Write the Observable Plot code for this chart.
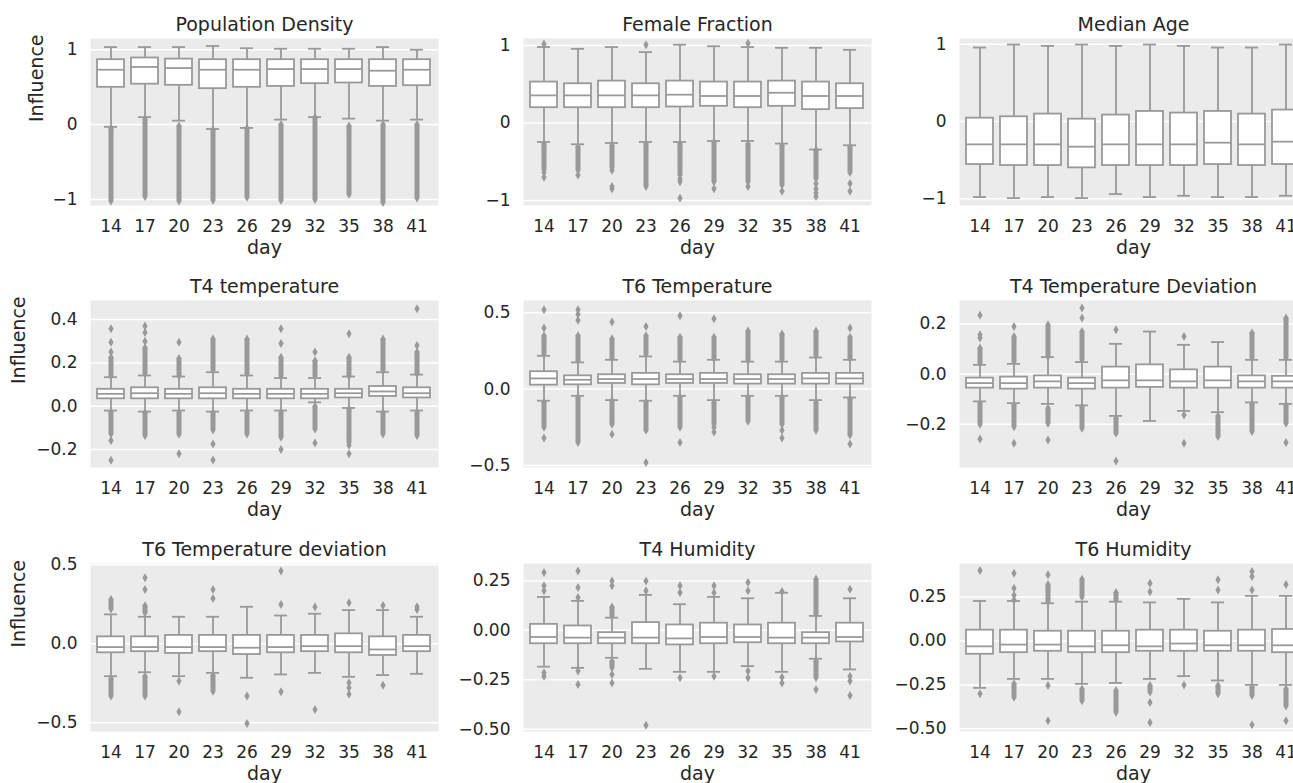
<!DOCTYPE html>
<html>
<head>
<meta charset="utf-8">
<script src="https://cdn.jsdelivr.net/npm/d3@7"></script>
<script src="https://cdn.jsdelivr.net/npm/@observablehq/plot@0.6"></script>
<style>
  html, body { margin: 0; padding: 0; overflow: hidden; width: 1293px; height: 783px; background: #ffffff; }
  #root { position: relative; width: 1293px; height: 783px; overflow: hidden; }
  #root svg { position: absolute; overflow: visible; }
</style>
</head>
<body>
<div id="root"></div>
<script>
// ---------- DATA ----------
const days = [14, 17, 20, 23, 26, 29, 32, 35, 38, 41];
const titles = ["Population Density", "Female Fraction", "Median Age",
  "T4 temperature", "T6 Temperature", "T4 Temperature Deviation",
  "T6 Temperature deviation", "T4 Humidity", "T6 Humidity"];
const yLabel = "Influence";
const xLabel = "day";

// each box: [lower whisker, q1, median, q3, upper whisker]
const popDensityBoxes = [[-0.03,0.498,0.733,0.867,1.035],[0.10,0.54,0.77,0.89,1.035],[0.053,0.525,0.755,0.875,1.035],[-0.058,0.48,0.733,0.867,1.05],[-0.044,0.498,0.733,0.867,1.02],[0.067,0.51,0.742,0.867,1.013],[0.10,0.547,0.742,0.867,1.013],[0.08,0.556,0.742,0.867,1.013],[0.053,0.51,0.72,0.867,1.035],[0.067,0.52,0.733,0.867,1.0]];
const popDensityOutliers = [[],[],[],[],[],[],[],[],[],[]];
const popDensityDense = [[[-0.05,-1.02]],[[0.07,-0.96]],[[-0.02,-1.02]],[[-0.07,-1.01]],[[-0.05,-0.97]],[[0.0,-1.01]],[[0.10,-1.0]],[[-0.02,-0.93]],[[0.0,-1.04]],[[0.0,-0.98]]];

const femaleBoxes = [[-0.245,0.197,0.356,0.528,0.98],[-0.275,0.197,0.356,0.506,0.957],[-0.258,0.197,0.356,0.54,0.98],[-0.245,0.197,0.356,0.506,0.914],[-0.245,0.206,0.365,0.54,1.01],[-0.232,0.215,0.348,0.528,0.99],[-0.232,0.197,0.348,0.528,0.98],[-0.266,0.215,0.39,0.54,0.97],[-0.343,0.172,0.348,0.528,0.97],[-0.288,0.185,0.348,0.506,0.944]];
const femaleOutliers = [[1.02,-0.64,-0.70],[-0.67],[-0.61,-0.82,-0.85],[1.01],[-0.72,-0.76,-0.97],[-0.85],[1.03,-0.82],[-0.88],[-0.78,-0.85,-0.90,-0.95],[-0.64,-0.78,-0.88]];
const femaleDense = [[[-0.27,-0.60]],[[-0.31,-0.61]],[[-0.29,-0.57]],[[-0.27,-0.82]],[[-0.27,-0.67]],[[-0.245,-0.76]],[[-0.27,-0.76]],[[-0.29,-0.80]],[[-0.35,-0.72]],[[-0.31,-0.62]]];

const ageBoxes = [[-0.978,-0.557,-0.296,0.043,0.957],[-0.991,-0.57,-0.296,0.061,0.996],[-0.978,-0.57,-0.296,0.096,0.978],[-0.991,-0.6,-0.326,0.03,0.996],[-0.939,-0.57,-0.296,0.083,0.978],[-0.978,-0.57,-0.296,0.13,0.996],[-0.961,-0.57,-0.296,0.109,0.978],[-0.978,-0.557,-0.274,0.13,0.957],[-0.978,-0.57,-0.296,0.096,0.957],[-0.961,-0.557,-0.261,0.148,0.996]];
const ageOutliers = [[],[],[],[],[],[],[],[],[],[]];
const ageDense = [[],[],[],[],[],[],[],[],[],[]];

const t4TempBoxes = [[-0.02,0.034,0.057,0.078,0.134],[-0.025,0.034,0.06,0.085,0.142],[-0.02,0.034,0.057,0.078,0.137],[-0.025,0.034,0.06,0.085,0.157],[-0.02,0.034,0.057,0.078,0.142],[-0.02,0.034,0.057,0.078,0.13],[0.018,0.034,0.057,0.078,0.13],[-0.008,0.038,0.06,0.078,0.137],[-0.025,0.045,0.068,0.091,0.157],[-0.02,0.038,0.06,0.085,0.146]];
const t4TempOutliers = [[0.357,0.295,0.25,-0.158,-0.25],[0.30,0.34,0.37],[0.295,-0.22],[-0.174,-0.248],[],[0.29,0.357,-0.2],[0.25,-0.17],[0.334,-0.18,-0.22],[],[0.28,0.45]];
const t4TempDense = [[[0.14,0.226],[-0.028,-0.128]],[[0.15,0.27],[-0.03,-0.135]],[[0.14,0.22],[-0.03,-0.13]],[[0.165,0.31],[-0.03,-0.11]],[[0.15,0.31],[-0.03,-0.128]],[[0.14,0.226],[-0.03,-0.143]],[[0.14,0.21],[0.0,-0.105]],[[0.14,0.226],[-0.012,-0.166]],[[0.165,0.31],[-0.03,-0.128]],[[0.15,0.25],[-0.03,-0.135]]];

const t6TempBoxes = [[-0.076,0.026,0.07,0.114,0.218],[-0.044,0.028,0.061,0.087,0.175],[-0.072,0.037,0.066,0.094,0.192],[-0.076,0.028,0.066,0.103,0.214],[-0.044,0.037,0.066,0.094,0.18],[-0.072,0.037,0.066,0.103,0.192],[-0.044,0.033,0.066,0.094,0.18],[-0.044,0.033,0.066,0.094,0.18],[-0.072,0.033,0.07,0.103,0.207],[-0.055,0.033,0.07,0.103,0.192]];
const t6TempOutliers = [[0.40,0.52,-0.32],[0.45,0.49,0.52],[0.44,-0.295],[0.41,-0.48],[0.48,-0.35],[0.46,-0.25,-0.28],[],[-0.27,-0.32],[],[0.40,-0.36]];
const t6TempDense = [[[0.23,0.35],[-0.087,-0.25]],[[0.185,0.35],[-0.055,-0.35]],[[0.2,0.33],[-0.076,-0.23]],[[0.23,0.35],[-0.087,-0.27]],[[0.19,0.34],[-0.055,-0.25]],[[0.2,0.34],[-0.087,-0.23]],[[0.19,0.38],[-0.055,-0.21]],[[0.19,0.36],[-0.055,-0.23]],[[0.22,0.38],[-0.087,-0.27]],[[0.2,0.34],[-0.065,-0.3]]];

const t4DevBoxes = [[-0.109,-0.056,-0.036,-0.016,0.037],[-0.116,-0.06,-0.036,-0.012,0.041],[-0.119,-0.056,-0.029,-0.007,0.068],[-0.125,-0.06,-0.036,-0.016,0.048],[-0.167,-0.056,-0.025,0.028,0.121],[-0.187,-0.053,-0.025,0.037,0.17],[-0.147,-0.056,-0.029,0.017,0.117],[-0.152,-0.056,-0.025,0.028,0.128],[-0.113,-0.056,-0.029,-0.007,0.057],[-0.119,-0.056,-0.029,-0.009,0.057]];
const t4DevOutliers = [[0.144,0.157,0.235,-0.259],[0.19,-0.276],[-0.263],[0.224,0.264],[0.177,-0.347],[],[0.15,-0.163,-0.276],[],[],[-0.273]];
const t4DevDense = [[[0.044,0.104],[-0.116,-0.2]],[[0.05,0.15],[-0.123,-0.21]],[[0.07,0.197],[-0.136,-0.196]],[[0.057,0.17],[-0.13,-0.216]],[[-0.176,-0.236]],[],[],[[-0.167,-0.249]],[[0.064,0.164],[-0.119,-0.229]],[[0.064,0.224],[-0.123,-0.196]]];

const t6DevBoxes = [[-0.205,-0.057,-0.021,0.044,0.186],[-0.18,-0.05,-0.021,0.044,0.171],[-0.205,-0.061,-0.021,0.053,0.171],[-0.184,-0.05,-0.021,0.053,0.171],[-0.215,-0.068,-0.025,0.053,0.234],[-0.194,-0.057,-0.021,0.053,0.179],[-0.184,-0.05,-0.015,0.053,0.19],[-0.209,-0.057,-0.015,0.063,0.213],[-0.198,-0.074,-0.036,0.044,0.213],[-0.19,-0.05,-0.015,0.053,0.171]];
const t6DevOutliers = [[],[0.344,0.418],[-0.236,-0.43],[0.287,0.344],[-0.331,-0.504],[0.249,0.46,-0.304],[0.232,-0.416],[0.26,-0.247,-0.278,-0.32],[0.243,-0.262],[0.234,0.217]];
const t6DevDense = [[[0.22,0.28],[-0.22,-0.33]],[[0.196,0.24],[-0.205,-0.33]],[],[[-0.2,-0.3]],[],[],[],[],[],[]];

const t4HumBoxes = [[-0.184,-0.068,-0.034,0.03,0.169],[-0.19,-0.068,-0.037,0.022,0.149],[-0.139,-0.068,-0.037,-0.012,0.064],[-0.195,-0.068,-0.037,0.039,0.179],[-0.21,-0.074,-0.041,0.027,0.132],[-0.21,-0.068,-0.034,0.036,0.169],[-0.181,-0.063,-0.034,0.027,0.162],[-0.21,-0.068,-0.037,0.036,0.19],[-0.144,-0.068,-0.037,-0.012,0.073],[-0.198,-0.059,-0.034,0.036,0.162]];
const t4HumOutliers = [[0.2,0.225,0.293,-0.215,-0.232],[0.166,0.217,0.3,-0.206,-0.274],[0.225,0.25,-0.223,-0.266],[0.2,0.25,-0.48],[0.19,0.225,-0.24],[0.19,0.225,-0.232],[0.2,0.242,-0.206,-0.24],[0.196,-0.237,-0.266],[-0.3],[0.208,-0.232,-0.257,-0.33]];
const t4HumDense = [[],[],[[0.073,0.118],[-0.156,-0.19]],[],[],[],[],[],[[0.08,0.26],[-0.156,-0.24]],[]];

const t6HumBoxes = [[-0.267,-0.076,-0.031,0.061,0.227],[-0.216,-0.067,-0.021,0.061,0.227],[-0.216,-0.059,-0.021,0.055,0.214],[-0.244,-0.067,-0.031,0.055,0.223],[-0.239,-0.067,-0.025,0.055,0.223],[-0.216,-0.059,-0.031,0.061,0.219],[-0.2,-0.059,-0.015,0.061,0.239],[-0.225,-0.059,-0.025,0.055,0.219],[-0.25,-0.059,-0.025,0.061,0.256],[-0.25,-0.067,-0.025,0.065,0.256]];
const t6HumOutliers = [[0.4,-0.3],[0.233,0.26,0.3,0.385],[0.376,-0.254,-0.454],[],[],[0.28,0.328,-0.35,-0.464],[-0.25],[0.29,0.347],[0.29,0.366,0.395,-0.477],[0.32,-0.454]];
const t6HumDense = [[],[[-0.244,-0.32]],[[0.223,0.32]],[[0.25,0.35],[-0.273,-0.34]],[[0.233,0.275],[-0.282,-0.406]],[[-0.254,-0.29]],[],[[-0.254,-0.3]],[[-0.263,-0.31]],[[-0.273,-0.37]]];

// y-axis tick values per panel
const ticksPM1 = [-1, 0, 1];
const ticksT4Temp = [-0.2, 0.0, 0.2, 0.4];
const ticksT6Temp = [-0.5, 0.0, 0.5];
const ticksT4Dev = [-0.2, 0.0, 0.2];
const ticksT6Dev = [-0.5, 0.0, 0.5];
const ticksHum = [-0.5, -0.25, 0.0, 0.25];

// ---------- LAYOUT / STYLE ----------
const G = "#999999";
const SW = 1.8;
const BG = "#EBEBEB";
const TXT = "#262626";
const ML = 90, MR = 10, MT = 40, MB = 62, W = 348;
const colLeft = [90, 523, 959];
const rowTop = [38, 300, 563];
const rowH = [167, 167, 168];

const fmtInt = d3.format("d"), fmt1 = d3.format(".1f"), fmt2 = d3.format(".2f");

const panels = [
  {boxes: popDensityBoxes, out: popDensityOutliers, dense: popDensityDense, domain: [-1.08, 1.15], ticks: ticksPM1, fmt: fmtInt},
  {boxes: femaleBoxes, out: femaleOutliers, dense: femaleDense, domain: [-1.065, 1.09], ticks: ticksPM1, fmt: fmtInt},
  {boxes: ageBoxes, out: ageOutliers, dense: ageDense, domain: [-1.087, 1.074], ticks: ticksPM1, fmt: fmtInt},
  {boxes: t4TempBoxes, out: t4TempOutliers, dense: t4TempDense, domain: [-0.283, 0.488], ticks: ticksT4Temp, fmt: fmt1},
  {boxes: t6TempBoxes, out: t6TempOutliers, dense: t6TempDense, domain: [-0.513, 0.58], ticks: ticksT6Temp, fmt: fmt1},
  {boxes: t4DevBoxes, out: t4DevOutliers, dense: t4DevDense, domain: [-0.373, 0.294], ticks: ticksT4Dev, fmt: fmt1},
  {boxes: t6DevBoxes, out: t6DevOutliers, dense: t6DevDense, domain: [-0.555, 0.508], ticks: ticksT6Dev, fmt: fmt1},
  {boxes: t4HumBoxes, out: t4HumOutliers, dense: t4HumDense, domain: [-0.512, 0.338], ticks: ticksHum, fmt: fmt2},
  {boxes: t6HumBoxes, out: t6HumOutliers, dense: t6HumDense, domain: [-0.515, 0.44], ticks: ticksHum, fmt: fmt2}
];

// thin diamond like matplotlib "d"
const thinDiamond = {
  draw(ctx, size) {
    const h = Math.sqrt(size / Math.PI) * 0.9;
    const w = h * 0.58;
    ctx.moveTo(0, -h); ctx.lineTo(w, 0); ctx.lineTo(0, h); ctx.lineTo(-w, 0); ctx.closePath();
  }
};

const root = document.getElementById("root");

panels.forEach((p, k) => {
  const row = Math.floor(k / 3), col = k % 3;
  const H = rowH[row];
  const rows = p.boxes.map((b, i) => ({day: days[i], lo: b[0], q1: b[1], med: b[2], q3: b[3], hi: b[4]}));
  const pts = p.out.flatMap((vs, i) => vs.map(v => ({day: days[i], v})));
  const dense = p.dense.flatMap((rs, i) => rs.map(r => ({day: days[i], a: r[0], b: r[1]})));
  const denseEnds = dense.flatMap(d => [{day: d.day, v: d.a}, {day: d.day, v: d.b}]);
  const bw = W / 10 * 0.8;
  const capInset = bw / 4;
  const marks = [
    Plot.frame({fill: BG, stroke: null}),
    Plot.gridY(p.ticks, {stroke: "white", strokeOpacity: 1, strokeWidth: 1.5}),
    Plot.axisY(p.ticks, {tickSize: 0, tickPadding: 13, tickFormat: p.fmt, label: null, fontSize: 17, fill: TXT}),
    Plot.axisX(days, {tickSize: 0, tickPadding: 14, label: null, fontSize: 17, fill: TXT}),
    Plot.ruleX(rows, {x: "day", y1: "lo", y2: "q1", stroke: G, strokeWidth: SW}),
    Plot.ruleX(rows, {x: "day", y1: "q3", y2: "hi", stroke: G, strokeWidth: SW}),
    Plot.tickY(rows, {x: "day", y: "lo", stroke: G, strokeWidth: SW, insetLeft: capInset, insetRight: capInset}),
    Plot.tickY(rows, {x: "day", y: "hi", stroke: G, strokeWidth: SW, insetLeft: capInset, insetRight: capInset}),
    Plot.ruleX(dense, {x: "day", y1: "a", y2: "b", stroke: G, strokeWidth: 5}),
    Plot.dot(denseEnds, {x: "day", y: "v", symbol: thinDiamond, r: 5, fill: G, stroke: null}),
    Plot.dot(pts, {x: "day", y: "v", symbol: thinDiamond, r: 5, fill: G, stroke: null}),
    Plot.barY(rows, {x: "day", y1: "q1", y2: "q3", fill: "white", stroke: G, strokeWidth: SW}),
    Plot.tickY(rows, {x: "day", y: "med", stroke: G, strokeWidth: SW}),
    Plot.text([titles[k]], {frameAnchor: "top", dy: -14, fontSize: 19, fill: TXT, lineAnchor: "middle"}),
    Plot.text([xLabel], {frameAnchor: "bottom", dy: 42, fontSize: 19, fill: TXT, lineAnchor: "middle"})
  ];
  if (col === 0) {
    marks.push(Plot.text([yLabel], {frameAnchor: "left", dx: row === 0 ? -54 : -72, rotate: -90, fontSize: 19, fill: TXT, lineAnchor: "middle"}));
  }
  const svg = Plot.plot({
    width: ML + W + MR,
    height: MT + H + MB,
    marginLeft: ML, marginRight: MR, marginTop: MT, marginBottom: MB,
    x: {type: "band", domain: days, paddingInner: 0.2, paddingOuter: 0.1, axis: null},
    y: {domain: p.domain, axis: null},
    style: {fontFamily: "'DejaVu Sans', sans-serif", fontSize: "17px", color: TXT, background: "transparent", overflow: "visible"},
    marks
  });
  svg.style.left = (colLeft[col] - ML) + "px";
  svg.style.top = (rowTop[row] - MT) + "px";
  root.appendChild(svg);
});
</script>
</body>
</html>
